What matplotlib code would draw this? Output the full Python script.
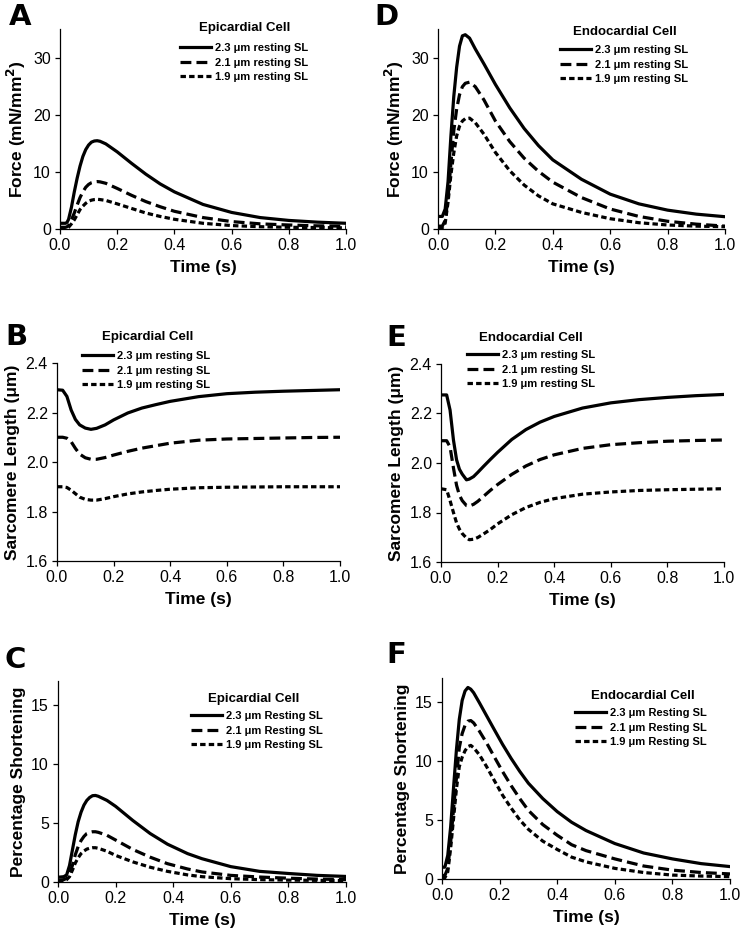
import matplotlib
matplotlib.use("Agg")
import matplotlib.pyplot as plt

plt.rcParams['font.family'] = ['Liberation Sans', 'DejaVu Sans']

# ---- data ----
# A: force, epicardial
tA = [0, 0.02, 0.025, 0.03, 0.04, 0.05, 0.06, 0.07, 0.08, 0.09, 0.1, 0.11, 0.12, 0.13, 0.14, 0.16, 0.2, 0.25, 0.3, 0.35, 0.4, 0.5, 0.6, 0.7, 0.8, 0.9, 1.0]
A_23 = [1.0, 1.0, 1.2, 1.7, 3.8, 6.5, 8.9, 11.0, 12.7, 13.9, 14.7, 15.2, 15.4, 15.45, 15.35, 14.9, 13.5, 11.5, 9.6, 7.9, 6.5, 4.3, 2.9, 2.0, 1.5, 1.2, 1.0]
A_21 = [0.3, 0.3, 0.4, 0.6, 1.6, 2.8, 4.2, 5.5, 6.5, 7.3, 7.8, 8.1, 8.25, 8.3, 8.25, 8.0, 7.1, 5.9, 4.8, 3.9, 3.1, 2.0, 1.3, 0.9, 0.7, 0.55, 0.5]
A_19 = [0.1, 0.1, 0.15, 0.3, 0.9, 1.6, 2.5, 3.4, 4.0, 4.5, 4.85, 5.05, 5.15, 5.2, 5.15, 5.0, 4.4, 3.6, 2.8, 2.2, 1.7, 1.0, 0.6, 0.4, 0.3, 0.25, 0.2]

# D: force, endocardial
tD = [0, 0.015, 0.025, 0.035, 0.045, 0.055, 0.065, 0.075, 0.085, 0.095, 0.11, 0.13, 0.16, 0.2, 0.25, 0.3, 0.35, 0.4, 0.5, 0.6, 0.7, 0.8, 0.9, 1.0]
D_23 = [2.2, 2.2, 3.5, 8.3, 16.3, 23.2, 28.3, 32.0, 33.8, 34.0, 33.4, 31.5, 28.9, 25.3, 21.2, 17.6, 14.6, 12.1, 8.7, 6.1, 4.4, 3.3, 2.6, 2.15]
D_21 = [0.5, 0.5, 1.5, 5.5, 11.5, 17.2, 21.0, 23.5, 24.9, 25.5, 25.7, 24.9, 22.6, 18.9, 15.3, 12.4, 10.1, 8.2, 5.5, 3.5, 2.2, 1.35, 0.85, 0.5]
D_19 = [0.2, 0.2, 1.0, 4.7, 9.5, 13.3, 16.3, 18.0, 18.9, 19.3, 19.4, 18.6, 16.6, 13.4, 10.2, 7.7, 5.8, 4.4, 2.9, 1.8, 1.1, 0.7, 0.5, 0.4]

# B: sarcomere length, epicardial
tB = [0, 0.02, 0.035, 0.05, 0.065, 0.08, 0.1, 0.12, 0.14, 0.17, 0.2, 0.25, 0.3, 0.35, 0.4, 0.5, 0.6, 0.7, 0.8, 0.9, 1.0]
B_23 = [2.292, 2.29, 2.265, 2.21, 2.172, 2.15, 2.137, 2.132, 2.136, 2.15, 2.17, 2.198, 2.218, 2.232, 2.245, 2.264, 2.276, 2.282, 2.286, 2.289, 2.292]
B_21 = [2.1, 2.1, 2.096, 2.082, 2.055, 2.032, 2.017, 2.011, 2.011, 2.018, 2.028, 2.043, 2.056, 2.066, 2.076, 2.088, 2.093, 2.095, 2.097, 2.099, 2.1]
B_19 = [1.9, 1.9, 1.897, 1.886, 1.872, 1.858, 1.849, 1.846, 1.846, 1.852, 1.86, 1.871, 1.879, 1.885, 1.89, 1.896, 1.898, 1.899, 1.9, 1.9, 1.9]

# E: sarcomere length, endocardial
tE = [0, 0.02, 0.032, 0.044, 0.055, 0.065, 0.075, 0.09, 0.1, 0.115, 0.13, 0.15, 0.175, 0.2, 0.25, 0.3, 0.35, 0.4, 0.5, 0.6, 0.7, 0.8, 0.9, 1.0]
E_23 = [2.275, 2.275, 2.214, 2.093, 2.013, 1.975, 1.955, 1.932, 1.935, 1.945, 1.962, 1.986, 2.015, 2.043, 2.095, 2.135, 2.165, 2.188, 2.222, 2.243, 2.256, 2.265, 2.272, 2.277]
E_21 = [2.09, 2.09, 2.065, 1.98, 1.91, 1.87, 1.848, 1.828, 1.826, 1.833, 1.845, 1.865, 1.89, 1.913, 1.954, 1.988, 2.014, 2.033, 2.059, 2.074, 2.082, 2.088, 2.091, 2.093]
E_19 = [1.896, 1.892, 1.848, 1.8, 1.758, 1.733, 1.715, 1.697, 1.69, 1.692, 1.699, 1.713, 1.732, 1.754, 1.791, 1.82, 1.841, 1.856, 1.874, 1.883, 1.889, 1.892, 1.894, 1.896]

# C: percentage shortening, epicardial
tC = [0, 0.02, 0.03, 0.04, 0.05, 0.06, 0.07, 0.08, 0.09, 0.1, 0.11, 0.12, 0.13, 0.14, 0.17, 0.2, 0.26, 0.32, 0.38, 0.45, 0.5, 0.6, 0.7, 0.8, 0.9, 1.0]
C_23 = [0.4, 0.45, 0.6, 1.4, 2.7, 4.0, 5.1, 5.9, 6.5, 6.9, 7.15, 7.3, 7.32, 7.25, 6.9, 6.4, 5.2, 4.1, 3.2, 2.4, 1.97, 1.3, 0.9, 0.72, 0.56, 0.47]
C_21 = [0.15, 0.2, 0.3, 0.7, 1.4, 2.3, 3.0, 3.5, 3.85, 4.1, 4.2, 4.25, 4.25, 4.2, 3.95, 3.55, 2.75, 2.1, 1.55, 1.1, 0.85, 0.56, 0.42, 0.32, 0.25, 0.2]
C_19 = [0.05, 0.1, 0.2, 0.45, 1.0, 1.6, 2.05, 2.4, 2.62, 2.78, 2.86, 2.9, 2.9, 2.85, 2.6, 2.25, 1.7, 1.25, 0.9, 0.6, 0.45, 0.28, 0.2, 0.16, 0.14, 0.12]

# F: percentage shortening, endocardial
tF = [0, 0.01, 0.02, 0.03, 0.04, 0.05, 0.06, 0.07, 0.08, 0.09, 0.1, 0.11, 0.13, 0.155, 0.18, 0.21, 0.24, 0.27, 0.3, 0.35, 0.4, 0.45, 0.5, 0.6, 0.7, 0.8, 0.9, 1.0]
F_23 = [1.0, 1.0, 2.0, 4.4, 7.7, 10.9, 13.5, 15.1, 15.9, 16.2, 16.05, 15.75, 14.9, 13.8, 12.7, 11.4, 10.2, 9.1, 8.1, 6.8, 5.7, 4.8, 4.1, 3.0, 2.2, 1.7, 1.3, 1.05]
F_21 = [0.3, 0.3, 0.9, 3.1, 5.9, 8.5, 11.1, 12.3, 13.0, 13.35, 13.4, 13.2, 12.5, 11.5, 10.4, 9.1, 7.9, 6.8, 5.8, 4.6, 3.7, 2.9, 2.4, 1.7, 1.1, 0.75, 0.55, 0.43]
F_19 = [0.1, 0.1, 0.6, 2.6, 5.1, 7.6, 9.5, 10.3, 10.85, 11.2, 11.3, 11.1, 10.5, 9.5, 8.4, 7.1, 6.0, 5.0, 4.2, 3.2, 2.5, 1.85, 1.45, 0.9, 0.55, 0.33, 0.25, 0.2]

labels_lower = ['2.3 \u03bcm resting SL', '2.1 \u03bcm resting SL', '1.9 \u03bcm resting SL']
labels_upper = ['2.3 \u03bcm Resting SL', '2.1 \u03bcm Resting SL', '1.9 \u03bcm Resting SL']
xticks = [0.0, 0.2, 0.4, 0.6, 0.8, 1.0]

W, H = 743, 938
fig = plt.figure(figsize=(W / 100, H / 100), dpi=100)


def px_axes(left, top, right, bottom):
    return fig.add_axes([left / W, 1 - bottom / H, (right - left) / W, (bottom - top) / H])


styles = [dict(ls='-'), dict(dashes=(3.4, 1.6)), dict(dashes=(1.7, 1.0))]


def panel(box, t, series, labels, title, ylabel, ylim, yticks, yfmt,
          title_xy, leg_xy, letter, letter_xy):
    ax = px_axes(*box)
    for y, lab, st in zip(series, labels, styles):
        ax.plot(t, y, color='black', lw=2.3, label=lab, **st)
    ax.set_xlim(0, 1.0)
    ax.set_ylim(*ylim)
    ax.set_xticks(xticks)
    ax.set_xticklabels(['%.1f' % v for v in xticks])
    ax.set_yticks(yticks)
    ax.set_yticklabels([yfmt % v for v in yticks])
    for s in ['top', 'right']:
        ax.spines[s].set_visible(False)
    for s in ['left', 'bottom']:
        ax.spines[s].set_linewidth(0.9)
    ax.tick_params(direction='out', length=3.5, width=0.9, labelsize=11.5, pad=3)
    ax.set_xlabel('Time (s)', fontsize=12.5, fontweight='bold', labelpad=5)
    ax.set_ylabel(ylabel, fontsize=12.5, fontweight='bold', labelpad=4)
    ax.legend(loc='upper left', bbox_to_anchor=(leg_xy[0] / W, 1 - leg_xy[1] / H),
              bbox_transform=fig.transFigure, frameon=False, borderpad=0, borderaxespad=0,
              handlelength=2.8, handletextpad=0.35, labelspacing=0.42,
              prop=dict(size=8, weight='bold'))
    fig.text(title_xy[0] / W, 1 - title_xy[1] / H, title, fontsize=9.5, fontweight='bold',
             ha='center', va='center')
    fig.text(letter_xy[0] / W, 1 - letter_xy[1] / H, letter, fontsize=21, fontweight='bold',
             family='DejaVu Sans', va='top', ha='left')
    return ax


panel((60, 29, 346, 229), tA, [A_23, A_21, A_19], labels_lower, 'Epicardial Cell',
      'Force (mN/mm$^\\mathbf{2}$)', (0, 35), [0, 10, 20, 30], '%d',
      (245, 28), (180, 43), 'A', (9, 3))
panel((438, 29, 725, 229), tD, [D_23, D_21, D_19], labels_lower, 'Endocardial Cell',
      'Force (mN/mm$^\\mathbf{2}$)', (0, 35), [0, 10, 20, 30], '%d',
      (625, 32), (560, 45), 'D', (374, 3))
panel((57, 363, 340, 561), tB, [B_23, B_21, B_19], labels_lower, 'Epicardial Cell',
      'Sarcomere Length (\u03bcm)', (1.6, 2.4), [1.6, 1.8, 2.0, 2.2, 2.4], '%.1f',
      (148, 337), (82, 351), 'B', (5, 323))
panel((441, 364, 724, 562), tE, [E_23, E_21, E_19], labels_lower, 'Endocardial Cell',
      'Sarcomere Length (\u03bcm)', (1.6, 2.4), [1.6, 1.8, 2.0, 2.2, 2.4], '%.1f',
      (531, 338), (467, 350), 'E', (386, 324))
panel((58, 681, 346, 882), tC, [C_23, C_21, C_19], labels_upper, 'Epicardial Cell',
      'Percentage Shortening', (0, 17), [0, 5, 10, 15], '%d',
      (254, 699), (191, 711), 'C', (5, 646))
panel((442, 678, 730, 879), tF, [F_23, F_21, F_19], labels_upper, 'Endocardial Cell',
      'Percentage Shortening', (0, 17), [0, 5, 10, 15], '%d',
      (643, 696), (575, 708), 'F', (386, 641))

fig.savefig('out.png', dpi=100)
